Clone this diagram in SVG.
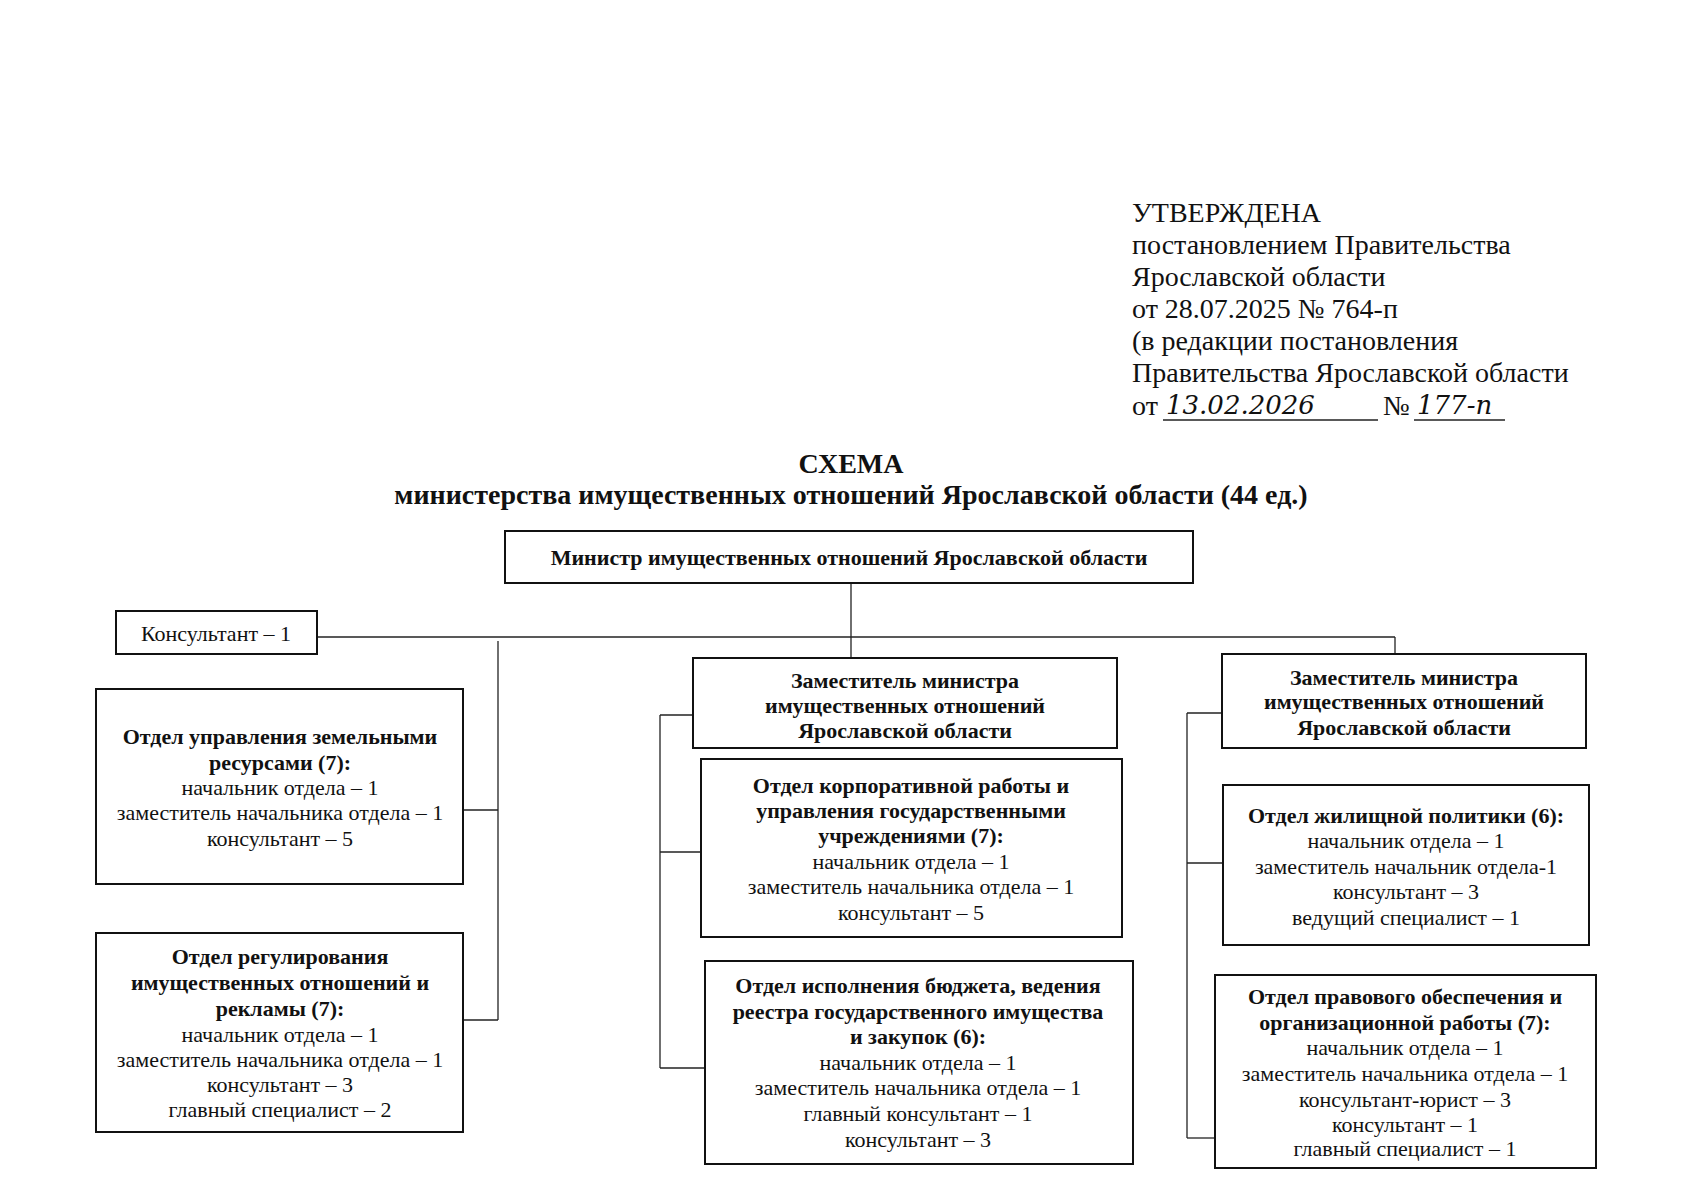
<svg xmlns="http://www.w3.org/2000/svg" width="1697" height="1200" viewBox="0 0 1697 1200">
<style>
.bg{fill:#fff}
.box{fill:#fff;stroke:#111;stroke-width:2}
.ln{stroke:#222;stroke-width:1.3;fill:none}
text{font-family:"Liberation Serif","Times New Roman",serif;fill:#111}
.t{font-size:22px;text-anchor:middle}
.b{font-weight:bold}
.hdr{font-size:28px}
.ttl{font-size:28px;font-weight:bold;text-anchor:middle}
.hw{font-family:"DejaVu Serif","Liberation Serif",serif;font-style:italic;font-size:26px}
</style>
<rect class="bg" x="0" y="0" width="1697" height="1200"/>

<g id="approval">
<text class="hdr" x="1132" y="222">УТВЕРЖДЕНА</text>
<text class="hdr" x="1132" y="254">постановлением Правительства</text>
<text class="hdr" x="1132" y="286">Ярославской области</text>
<text class="hdr" x="1132" y="318">от 28.07.2025 № 764-п</text>
<text class="hdr" x="1132" y="350">(в редакции постановления</text>
<text class="hdr" x="1132" y="382">Правительства Ярославской области</text>
<text class="hdr" x="1132" y="415">от</text>
<text class="hw" x="1166" y="414">13.02.2026</text>
<text class="hdr" x="1383" y="415">№</text>
<text class="hw" x="1417" y="414">177-п</text>
<line class="ln" x1="1163" y1="420" x2="1378" y2="420"/>
<line class="ln" x1="1414" y1="420" x2="1505" y2="420"/>
</g>

<g id="title">
<text class="ttl" x="851" y="473">СХЕМА</text>
<text class="ttl" x="851" y="504">министерства имущественных отношений Ярославской области (44 ед.)</text>
</g>

<g id="connectors">
<line class="ln" x1="851" y1="583" x2="851" y2="637"/>
<line class="ln" x1="317" y1="637" x2="1395" y2="637"/>
<line class="ln" x1="851" y1="637" x2="851" y2="658"/>
<line class="ln" x1="1395" y1="637" x2="1395" y2="654"/>
<line class="ln" x1="498" y1="641" x2="498" y2="1020"/>
<line class="ln" x1="463" y1="810" x2="498" y2="810"/>
<line class="ln" x1="463" y1="1020" x2="498" y2="1020"/>
<line class="ln" x1="660" y1="715" x2="660" y2="1068"/>
<line class="ln" x1="660" y1="715" x2="693" y2="715"/>
<line class="ln" x1="660" y1="852" x2="701" y2="852"/>
<line class="ln" x1="660" y1="1068" x2="704" y2="1068"/>
<line class="ln" x1="1187" y1="713" x2="1187" y2="1138"/>
<line class="ln" x1="1187" y1="713" x2="1222" y2="713"/>
<line class="ln" x1="1187" y1="863" x2="1223" y2="863"/>
<line class="ln" x1="1187" y1="1138" x2="1215" y2="1138"/>
</g>

<g id="minister">
<rect class="box" x="505" y="531" width="688" height="52"/>
<text class="t b" x="849" y="565">Министр имущественных отношений Ярославской области</text>
</g>

<g id="consultant">
<rect class="box" x="116" y="611" width="201" height="43"/>
<text class="t" x="216" y="641">Консультант – 1</text>
</g>

<g id="dept-land">
<rect class="box" x="96" y="689" width="367" height="195"/>
<text class="t b" x="280" y="744">Отдел управления земельными</text>
<text class="t b" x="280" y="770">ресурсами (7):</text>
<text class="t" x="280" y="795">начальник отдела – 1</text>
<text class="t" x="280" y="820">заместитель начальника отдела – 1</text>
<text class="t" x="280" y="846">консультант – 5</text>
</g>

<g id="dept-regulation">
<rect class="box" x="96" y="933" width="367" height="199"/>
<text class="t b" x="280" y="964">Отдел регулирования</text>
<text class="t b" x="280" y="990">имущественных отношений и</text>
<text class="t b" x="280" y="1016">рекламы (7):</text>
<text class="t" x="280" y="1042">начальник отдела – 1</text>
<text class="t" x="280" y="1067">заместитель начальника отдела – 1</text>
<text class="t" x="280" y="1092">консультант – 3</text>
<text class="t" x="280" y="1117">главный специалист – 2</text>
</g>

<g id="deputy-1">
<rect class="box" x="693" y="658" width="424" height="90"/>
<text class="t b" x="905" y="688">Заместитель министра</text>
<text class="t b" x="905" y="713">имущественных отношений</text>
<text class="t b" x="905" y="738">Ярославской области</text>
</g>

<g id="dept-corporate">
<rect class="box" x="701" y="759" width="421" height="178"/>
<text class="t b" x="911" y="793">Отдел корпоративной работы и</text>
<text class="t b" x="911" y="818">управления государственными</text>
<text class="t b" x="911" y="843">учреждениями (7):</text>
<text class="t" x="911" y="869">начальник отдела – 1</text>
<text class="t" x="911" y="894">заместитель начальника отдела – 1</text>
<text class="t" x="911" y="920">консультант – 5</text>
</g>

<g id="dept-budget">
<rect class="box" x="705" y="961" width="428" height="203"/>
<text class="t b" x="918" y="993">Отдел исполнения бюджета, ведения</text>
<text class="t b" x="918" y="1019">реестра государственного имущества</text>
<text class="t b" x="918" y="1044">и закупок (6):</text>
<text class="t" x="918" y="1070">начальник отдела – 1</text>
<text class="t" x="918" y="1095">заместитель начальника отдела – 1</text>
<text class="t" x="918" y="1121">главный консультант – 1</text>
<text class="t" x="918" y="1147">консультант – 3</text>
</g>

<g id="deputy-2">
<rect class="box" x="1222" y="654" width="364" height="94"/>
<text class="t b" x="1404" y="685">Заместитель министра</text>
<text class="t b" x="1404" y="709">имущественных отношений</text>
<text class="t b" x="1404" y="735">Ярославской области</text>
</g>

<g id="dept-housing">
<rect class="box" x="1223" y="785" width="366" height="160"/>
<text class="t b" x="1406" y="823">Отдел жилищной политики (6):</text>
<text class="t" x="1406" y="848">начальник отдела – 1</text>
<text class="t" x="1406" y="874">заместитель начальник отдела-1</text>
<text class="t" x="1406" y="899">консультант – 3</text>
<text class="t" x="1406" y="925">ведущий специалист – 1</text>
</g>

<g id="dept-legal">
<rect class="box" x="1215" y="975" width="381" height="193"/>
<text class="t b" x="1405" y="1004">Отдел правового обеспечения и</text>
<text class="t b" x="1405" y="1030">организационной работы (7):</text>
<text class="t" x="1405" y="1055">начальник отдела – 1</text>
<text class="t" x="1405" y="1081">заместитель начальника отдела – 1</text>
<text class="t" x="1405" y="1107">консультант-юрист – 3</text>
<text class="t" x="1405" y="1132">консультант – 1</text>
<text class="t" x="1405" y="1156">главный специалист – 1</text>
</g>
</svg>
